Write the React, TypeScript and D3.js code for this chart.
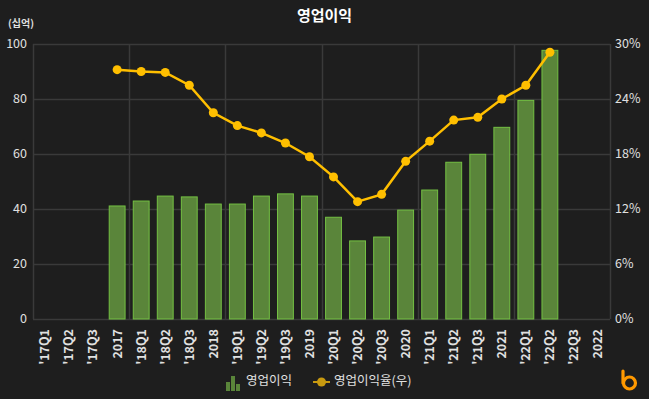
import React, { useEffect, useRef } from 'react';
import * as d3 from 'd3';

const categories = [
  "'17Q1", "'17Q2", "'17Q3", '2017',
  "'18Q1", "'18Q2", "'18Q3", '2018',
  "'19Q1", "'19Q2", "'19Q3", '2019',
  "'20Q1", "'20Q2", "'20Q3", '2020',
  "'21Q1", "'21Q2", "'21Q3", '2021',
  "'22Q1", "'22Q2", "'22Q3", '2022',
];

// 영업이익 (십억)
const profit: (number | null)[] = [
  null, null, null, 41.1,
  42.9, 44.7, 44.4, 41.8,
  41.8, 44.7, 45.5, 44.7,
  37.0, 28.4, 29.8, 39.6,
  46.9, 57.0, 59.9, 69.7,
  79.5, 97.7, null, null,
];

// 영업이익율 (%)
const margin: (number | null)[] = [
  null, null, null, 27.2,
  27.0, 26.9, 25.5, 22.5,
  21.1, 20.3, 19.2, 17.7,
  15.5, 12.8, 13.6, 17.2,
  19.4, 21.7, 22.0, 24.0,
  25.5, 29.1, null, null,
];

const leftTicks = [0, 20, 40, 60, 80, 100];
const rightTicks = [0, 6, 12, 18, 24, 30];

const BAR_FILL = '#5a853a';
const BAR_STROKE = '#74c043';
const LINE = '#ffbf00';
const TEXT = '#e0e0e0';
const GRID = '#3a3a3a';

export default function App() {
  const svgRef = useRef<SVGSVGElement>(null);

  useEffect(() => {
    document.body.style.margin = '0';
    document.body.style.background = '#1e1e1e';
    if (!svgRef.current) return;

    const svg = d3.select(svgRef.current);
    svg.selectAll('*').remove();

    const width = 649;
    const height = 399;
    const plot = { left: 33, right: 610, top: 44, bottom: 319 };
    const font = "'Noto Sans CJK KR', 'Noto Sans', sans-serif";

    svg.attr('width', width).attr('height', height).style('font-family', font);

    svg.append('rect').attr('width', width).attr('height', height).attr('fill', '#1e1e1e');

    const x = d3.scaleBand()
      .domain(categories)
      .range([plot.left, plot.right])
      .paddingInner(0.34)
      .paddingOuter(0.17);

    const yLeft = d3.scaleLinear().domain([0, 100]).range([plot.bottom, plot.top]);
    const yRight = d3.scaleLinear().domain([0, 30]).range([plot.bottom, plot.top]);

    const step = x.step();

    // grid
    const grid = svg.append('g');
    leftTicks.forEach(t => {
      grid.append('line')
        .attr('x1', plot.left).attr('x2', plot.right)
        .attr('y1', yLeft(t) + 0.5).attr('y2', yLeft(t) + 0.5)
        .attr('stroke', GRID).attr('stroke-width', 1.5);
    });
    for (let i = 0; i <= categories.length; i += 4) {
      const gx = Math.round(plot.left + i * step) + 0.5;
      grid.append('line')
        .attr('x1', gx).attr('x2', gx)
        .attr('y1', plot.top).attr('y2', plot.bottom)
        .attr('stroke', GRID).attr('stroke-width', 1.5);
    }

    // title + unit
    svg.append('text')
      .attr('x', width / 2).attr('y', 21)
      .attr('text-anchor', 'middle')
      .style('font-size', '15px').style('font-weight', 'bold')
      .attr('fill', '#ffffff')
      .text('영업이익');

    svg.append('text')
      .attr('x', 8).attr('y', 27)
      .style('font-size', '10px').style('font-weight', 'bold')
      .attr('fill', TEXT)
      .text('(십억)');

    // left axis labels
    svg.append('g').selectAll('text')
      .data(leftTicks)
      .enter()
      .append('text')
      .attr('x', 27)
      .attr('y', d => yLeft(d))
      .attr('dy', '0.35em')
      .attr('text-anchor', 'end')
      .style('font-size', '12.5px')
      .attr('fill', TEXT)
      .text(d => d);

    // right axis labels
    svg.append('g').selectAll('text')
      .data(rightTicks)
      .enter()
      .append('text')
      .attr('x', 615)
      .attr('y', d => yRight(d))
      .attr('dy', '0.35em')
      .style('font-size', '12.5px')
      .attr('fill', TEXT)
      .text(d => `${d}%`);

    // x labels
    svg.append('g').selectAll('text')
      .data(categories)
      .enter()
      .append('text')
      .attr('transform', d => `translate(${(x(d) || 0) + x.bandwidth() / 2}, 329) rotate(-90)`)
      .attr('text-anchor', 'end')
      .attr('dy', '0.35em')
      .style('font-size', '12.5px').style('font-weight', 'bold')
      .attr('fill', TEXT)
      .text(d => d);

    // bars
    svg.append('g').selectAll('rect')
      .data(categories.map((c, i) => ({ c, v: profit[i] })).filter(d => d.v !== null))
      .enter()
      .append('rect')
      .attr('x', d => (x(d.c) || 0))
      .attr('y', d => yLeft(d.v as number))
      .attr('width', x.bandwidth())
      .attr('height', d => plot.bottom - yLeft(d.v as number))
      .attr('fill', BAR_FILL)
      .attr('stroke', BAR_STROKE)
      .attr('stroke-width', 1);

    // line
    const pts = categories.map((c, i) => ({ c, v: margin[i] })).filter(d => d.v !== null);
    const line = d3.line<{ c: string; v: number | null }>()
      .x(d => (x(d.c) || 0) + x.bandwidth() / 2)
      .y(d => yRight(d.v as number));

    svg.append('path')
      .datum(pts)
      .attr('d', line)
      .attr('fill', 'none')
      .attr('stroke', LINE)
      .attr('stroke-width', 2.5);

    svg.append('g').selectAll('circle')
      .data(pts)
      .enter()
      .append('circle')
      .attr('cx', d => (x(d.c) || 0) + x.bandwidth() / 2)
      .attr('cy', d => yRight(d.v as number))
      .attr('r', 4.5)
      .attr('fill', LINE);

    // legend
    const legend = svg.append('g');
    const iconBars = [9, 15, 7];
    iconBars.forEach((h, i) => {
      legend.append('rect')
        .attr('x', 226 + i * 5).attr('y', 391 - h)
        .attr('width', 4).attr('height', h)
        .attr('fill', BAR_FILL);
    });

    legend.append('text')
      .attr('x', 246).attr('y', 381)
      .attr('dy', '0.35em')
      .style('font-size', '12.5px')
      .attr('fill', TEXT)
      .text('영업이익');

    legend.append('line')
      .attr('x1', 313).attr('x2', 330).attr('y1', 382).attr('y2', 382)
      .attr('stroke', '#c89a10').attr('stroke-width', 2);
    legend.append('circle')
      .attr('cx', 321.5).attr('cy', 382).attr('r', 4.5)
      .attr('fill', '#c89a10');

    legend.append('text')
      .attr('x', 334).attr('y', 381)
      .attr('dy', '0.35em')
      .style('font-size', '12.5px')
      .attr('fill', TEXT)
      .text('영업이익율(우)');

    // logo
    const logo = svg.append('g').attr('fill', 'none').attr('stroke', '#ff9900')
      .attr('stroke-width', 3.2).attr('stroke-linecap', 'round');
    logo.append('path').attr('d', 'M623,371 L623,383');
    logo.append('circle').attr('cx', 629.5).attr('cy', 383).attr('r', 6);
  }, []);

  return <svg ref={svgRef} style={{ display: 'block' }}></svg>;
}
